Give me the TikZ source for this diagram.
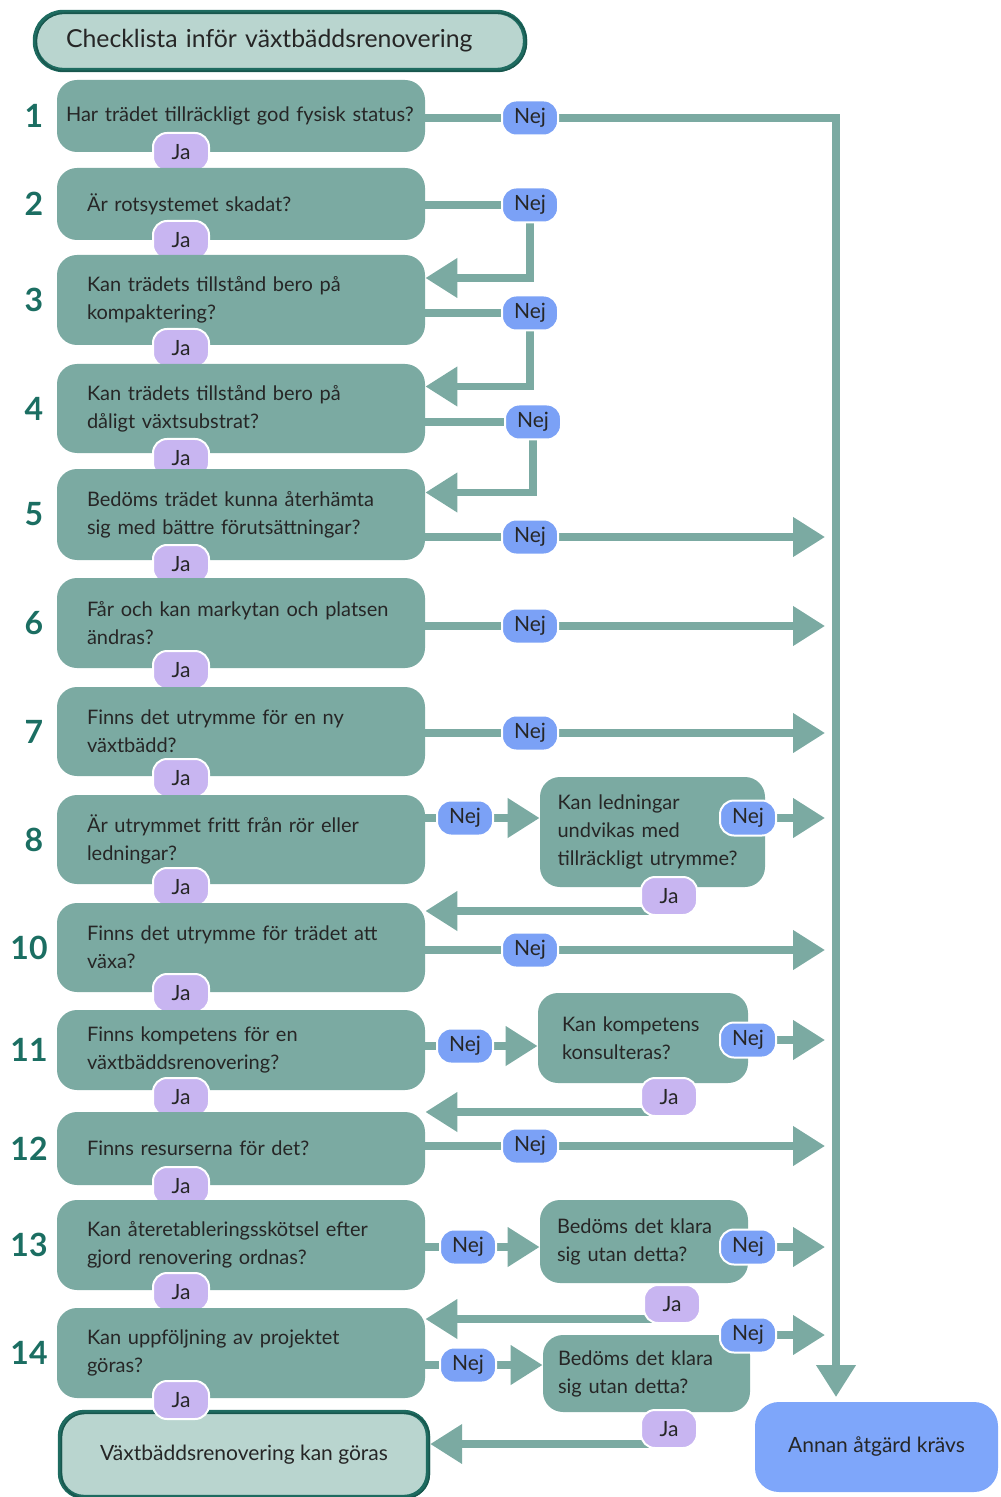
\documentclass[tikz,border=0pt]{standalone}
\usepackage{fontspec}
\setmainfont{Lato}
\usetikzlibrary{arrows.meta,backgrounds}
\definecolor{boxc}{HTML}{7BAAA2}
\definecolor{nejc}{HTML}{7BA1F6}
\definecolor{jac}{HTML}{C8B5F1}
\definecolor{titlec}{HTML}{B9D5CF}
\definecolor{dk}{HTML}{1E6B60}
\definecolor{numc}{HTML}{1B6E62}
\definecolor{annc}{HTML}{7EA6FA}

\begin{document}
\begin{tikzpicture}[x=0.5pt,y=-0.5pt]
\tikzset{qbox/.style={fill=boxc, rounded corners=10pt, minimum width=184pt, text width=154pt, inner xsep=15pt, align=left, text=black!85, font=\fontsize{10}{14}\selectfont},
  wide/.style={text width=175pt, inner xsep=4.5pt},
  nrm/.style={},
  sbox/.style={fill=boxc, rounded corners=10pt, align=left, text=black!85, font=\fontsize{10}{14}\selectfont},
  nej/.style={fill=nejc, draw=white, line width=1pt, rounded corners=7pt, minimum width=28pt, minimum height=17.5pt, inner sep=0pt, text=black!85, font=\fontsize{10.5}{11}\selectfont},
  ja/.style={nej, fill=jac, minimum height=19pt},
  num/.style={text=numc, font=\fontsize{16}{16}\bfseries\selectfont},
  conn/.style={draw=boxc, line width=3.75pt},
  arr/.style={conn, -{Triangle[length=16pt,width=19pt]}},
  rough/.style={draw=dk, line width=2.2pt, postaction={draw=dk!80!black, line width=0.7pt, transform canvas={shift={(0.7pt,-0.6pt)}}}}}
\useasboundingbox (0,0) rectangle (1000,1497);

\node[rough, fill=titlec, rounded corners=14pt, minimum width=245pt, minimum height=29pt, text width=214pt, inner xsep=15.5pt, align=left, text=black!85, font=\fontsize{12.4}{13}\selectfont] (title) at (280,41) {Checklista inför växtbäddsrenovering};
\node[rough, fill=titlec, rounded corners=12pt, minimum width=184pt, minimum height=42.5pt, text=black!85, font=\fontsize{10.5}{14}\selectfont] (fin) at (244,1454.5) {Växtbäddsrenovering kan göras};

\foreach \n/\y/\h/\j/\s/\t in {
  1/116/72/152/wide/{Har trädet tillräckligt god fysisk status?},
  2/204/72/240/nrm/{Är rotsystemet skadat?},
  3/300/90/348/nrm/{Kan trädets tillstånd bero på\\kompaktering?},
  4/408.5/89/458/nrm/{Kan trädets tillstånd bero på\\dåligt växtsubstrat?},
  5/514.5/91/564/nrm/{Bedöms trädet kunna återhämta\\sig med bättre förutsättningar?},
  6/623/90/670/nrm/{Får och kan markytan och platsen\\ändras?},
  7/731.5/89/778/nrm/{Finns det utrymme för en ny\\växtbädd?},
  8/839.5/89/887/nrm/{Är utrymmet fritt från rör eller\\ledningar?},
  10/947.5/89/993/nrm/{Finns det utrymme för trädet att\\växa?},
  11/1050/80/1097/nrm/{Finns kompetens för en\\växtbäddsrenovering?},
  12/1148.5/73/1186/nrm/{Finns resurserna för det?},
  13/1245/90/1292/nrm/{Kan återetableringsskötsel efter\\gjord renovering ordnas?},
  14/1353/90/1400/nrm/{Kan uppföljning av projektet\\göras?}}
{
  \pgfmathsetmacro\nx{\n<10 ? 34 : 29}
  \node[qbox, \s, minimum height=\h*0.5pt] (q\n) at (241,\y) {\t};
  \node[num] (no\n) at (\nx,\y) {\n};
  \node[ja] (ja\n) at (181,\j) {Ja};
}

\node[nej] (n1) at (530,118) {Nej};
\node[nej] (n2) at (530,205) {Nej};
\node[nej] (n3) at (530,313) {Nej};
\node[nej] (n4) at (533,422) {Nej};
\node[nej] (n5) at (530,537) {Nej};
\node[nej] (n6) at (530,626) {Nej};
\node[nej] (n7) at (530,733) {Nej};
\node[nej] (n8) at (465,818) {Nej};
\node[nej] (n10) at (530,950) {Nej};
\node[nej] (n11) at (465,1046) {Nej};
\node[nej] (n12) at (530,1146) {Nej};
\node[nej] (n13) at (468,1247) {Nej};
\node[nej] (n14) at (468,1365) {Nej};

\node[sbox, text width=95pt, inner xsep=8.75pt, minimum width=112.5pt, minimum height=55pt] (s8) at (652.5,832) {Kan ledningar\\undvikas med\\tillräckligt utrymme?};
\node[nej] (m8) at (748,818) {Nej};
\node[ja] (jb8) at (669,896) {Ja};
\node[sbox, text width=81pt, inner xsep=12pt, minimum width=105pt, minimum height=45pt] (s11) at (643,1038) {Kan kompetens\\konsulteras?};
\node[nej] (m11) at (748,1040) {Nej};
\node[ja] (jb11) at (669,1097) {Ja};
\node[sbox, text width=87pt, inner xsep=8.5pt, minimum width=104pt, minimum height=41.5pt] (s13) at (644,1241.5) {Bedöms det klara\\sig utan detta?};
\node[nej] (m13) at (748,1247) {Nej};
\node[ja] (jb13) at (672,1304) {Ja};
\node[sbox, text width=88.5pt, inner xsep=7.5pt, minimum width=103.5pt, minimum height=38.5pt] (s14) at (646.5,1373.5) {Bedöms det klara\\sig utan detta?};
\node[nej] (m14) at (748,1335) {Nej};
\node[ja] (jb14) at (669,1429) {Ja};

\node[fill=annc, rounded corners=12pt, minimum width=121.5pt, minimum height=45pt, text=black!85, font=\fontsize{10.5}{14}\selectfont] (ann) at (876.5,1447) {Annan åtgärd krävs};

\coordinate (ex) at (825,0);
\coordinate (dn) at (836,1397);
\begin{pgfonlayer}{background}
\draw[arr] (n1 -| q1.east) -- (n1) -| (dn);
\foreach \n/\m in {2/3,3/4,4/5}
  \draw[arr] (n\n -| q\n.east) -- (n\n) |- ([yshift=11pt]q\m.east);
\foreach \n in {5,6,7,10,12}
  \draw[arr] (n\n -| q\n.east) -- (n\n) -- (n\n -| ex);
\foreach \n/\m in {8/q10,11/q12,13/q14,14/fin}{
  \draw[arr] (n\n -| q\n.east) -- (n\n) -- (n\n -| s\n.west);
  \draw[arr] (m\n) -- (m\n -| ex);
  \draw[arr] ([yshift=-7.5pt]jb\n.center) -- ([yshift=-7.5pt]jb\n.center -| \m.east);
}
\end{pgfonlayer}
\end{tikzpicture}
\end{document}
